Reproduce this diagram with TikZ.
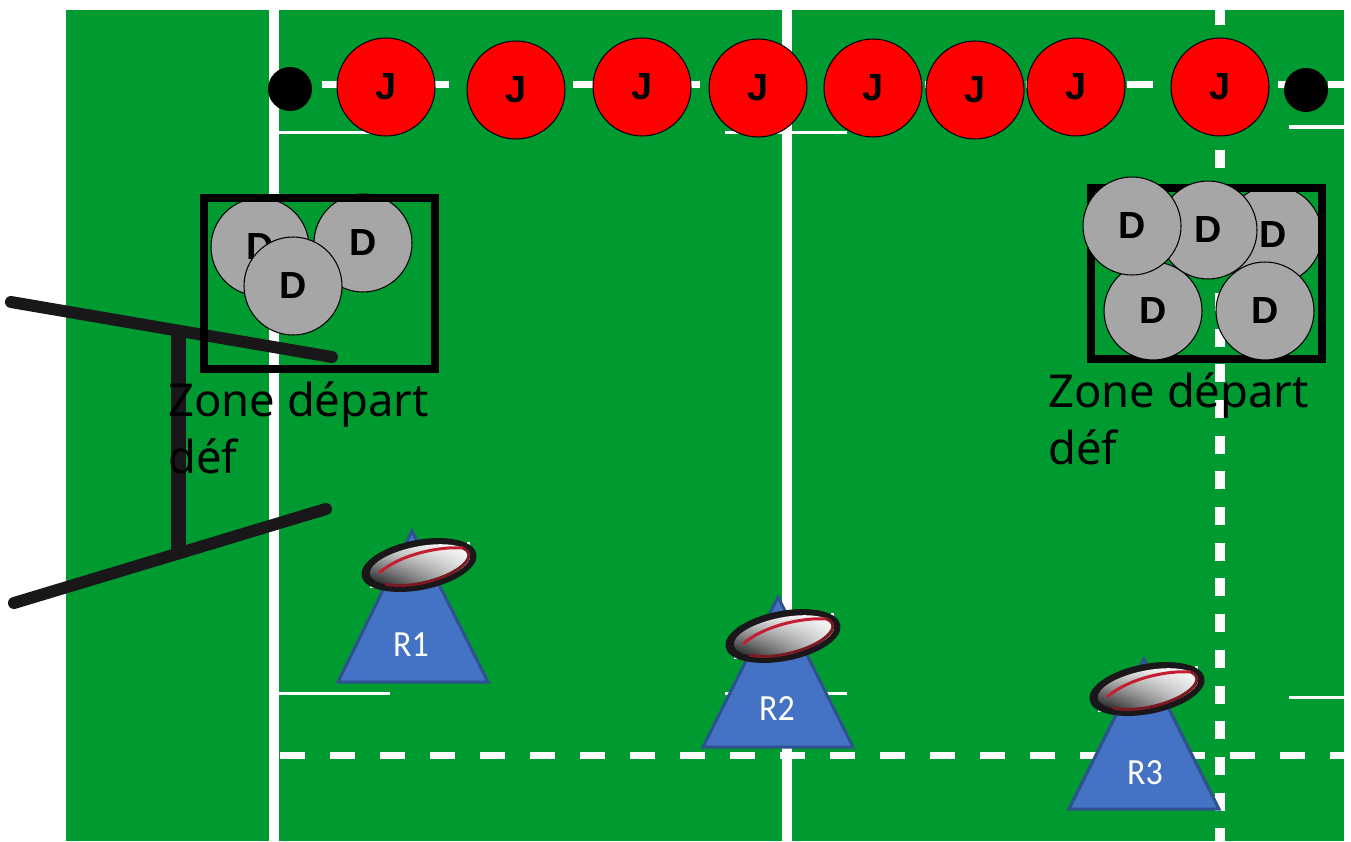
\documentclass[tikz,border=0pt]{standalone}
\usepackage{fontspec}
\usetikzlibrary{shadings}
\setmainfont{Noto Sans}
\newfontfamily\labelfont[FakeStretch=0.92]{Carlito}
\newfontfamily\playerfont{Liberation Sans}
\definecolor{pitch}{HTML}{009B30}
\definecolor{ballrim}{HTML}{1A171B}
\definecolor{coneblue}{HTML}{4472C4}
\definecolor{coneedge}{HTML}{2F528F}
\definecolor{stripe}{HTML}{C41E30}
\definecolor{stripedark}{HTML}{7A1A22}

\begin{document}
\begin{tikzpicture}[
    x=0.02cm, y=-0.02cm,
    every node/.style={font=\playerfont\bfseries\fontsize{21.5}{24}\selectfont},
    mainline/.style={white, line width=0.2cm},
    thinline/.style={white, line width=0.07cm},
    touchline/.style={white, line width=0.2cm, dash pattern=on 0.36cm off 0.354cm, dash phase=0.052cm},
    tryline/.style={white, line width=0.14cm, dash pattern=on 0.52cm off 0.486cm},
    deadline/.style={white, line width=0.14cm, dash pattern=on 0.5cm off 0.5cm},
    goalpost/.style={ballrim, line width=0.24cm, line cap=round},
    zonebox/.style={draw=black, line width=0.16cm},
    flagdot/.style={circle, fill=black, minimum size=0.88cm, inner sep=0pt},
    jplayer/.style={circle, draw=black, fill=red, line width=0.6pt, minimum size=1.96cm, inner sep=0pt},
    dplayer/.style={circle, draw=black, fill=black!35, line width=0.6pt, minimum size=1.96cm, inner sep=0pt},
    cone/.style={fill=coneblue, draw=coneedge, line width=0.06cm, line join=miter},
    conetext/.style={white, font=\labelfont\fontsize{21}{24}\selectfont},
    zonetext/.style={anchor=base west, inner sep=0pt, align=left, font=\rmfamily\fontsize{25.8}{31.9}\selectfont},
    rugby/.pic={
      \fill[white] (-49,20) rectangle (-42,23);
      \fill[white] (48,-23) rectangle (51,-20);
      \begin{scope}[rotate=11]
        \fill[ballrim] (0,0) ellipse [x radius=58.5, y radius=25];
        \shade[lower left=black, upper right=white, upper left=black!15, lower right=black!15] (1,0) ellipse [x radius=51, y radius=18.5];
      \end{scope}
      \draw[stripe, line width=0.06cm] (-40,8) .. controls (-20,-10) and (20,-19) .. (44,-17);
      \draw[stripedark, line width=0.06cm] (44,-17) .. controls (55,-12) and (50,-2) .. (34,7) .. controls (20,15) and (-10,24) .. (-34,19);
    }
  ]
    \useasboundingbox (0,0) rectangle (1351,841);

    % Pitch
    \fill[pitch] (66,10) rectangle (1344,841);

    % Pitch markings
    \draw[mainline] (273.5,10) -- (273.5,841);
    \draw[mainline] (786.5,10) -- (786.5,841);
    \draw[touchline] (1220,10) -- (1220,841);
    \draw[tryline] (322,85) -- (1344,85);
    \draw[deadline] (280,755.5) -- (1344,755.5);
    \draw[thinline] (278,132.5) -- (390,132.5);
    \draw[thinline] (725,132.5) -- (847,132.5);
    \draw[thinline] (1289,127) -- (1344,127);
    \draw[thinline] (278,693.5) -- (390,693.5);
    \draw[thinline] (725,693.5) -- (847,693.5);
    \draw[thinline] (1289,697.5) -- (1344,697.5);

    % Posts
    \draw[goalpost] (11,302) -- (332,357);
    \draw[goalpost] (14,603) -- (326,509);
    \draw[ballrim, line width=0.3cm] (178,333) -- (178,553);

    % End markers
    \node[flagdot] (dotl) at (290,89) {};
    \node[flagdot] (dotr) at (1306,90) {};

    % Line of J players
    \node[jplayer] (j1) at (386,87) {J};
    \node[jplayer] (j2) at (516,90) {J};
    \node[jplayer] (j3) at (642,87) {J};
    \node[jplayer] (j4) at (758,88) {J};
    \node[jplayer] (j5) at (873,88) {J};
    \node[jplayer] (j6) at (975,90) {J};
    \node[jplayer] (j7) at (1076,87) {J};
    \node[jplayer] (j8) at (1220,87) {J};

    % Left zone
    \node[dplayer] (dl1) at (260,247) {D};
    \node[dplayer] (dl2) at (363,243) {D};
    \draw[zonebox] (204,198) rectangle (435,369);
    \node[dplayer] (dl3) at (293,286) {D};
    \node[zonetext] (zl) at (168,473) {Zone départ\\déf};

    % Right zone
    \node[dplayer] (dr1) at (1273,235) {D};
    \draw[zonebox] (1091,188) rectangle (1322,359);
    \node[dplayer] (dr2) at (1153,311) {D};
    \node[dplayer] (dr3) at (1265,311) {D};
    \node[dplayer] (dr4) at (1208,230) {D};
    \node[dplayer] (dr5) at (1132,226) {D};
    \node[zonetext] (zr) at (1048,464) {Zone départ\\déf};

    % Cones and balls
    \draw[cone] (412,531) -- (488,682) -- (338,682) -- cycle;
    \node[conetext] (r1) at (411,645) {R1};
    \pic (b1) at (419,565) {rugby};

    \draw[cone] (778,597) -- (853,747) -- (703,747) -- cycle;
    \node[conetext] (r2) at (777,709) {R2};
    \pic (b2) at (783,636) {rugby};

    \draw[cone] (1144,659) -- (1219,809) -- (1069,809) -- cycle;
    \node[conetext] (r3) at (1145,773) {R3};
    \pic (b3) at (1147,689) {rugby};

  \end{tikzpicture}
\end{document}
